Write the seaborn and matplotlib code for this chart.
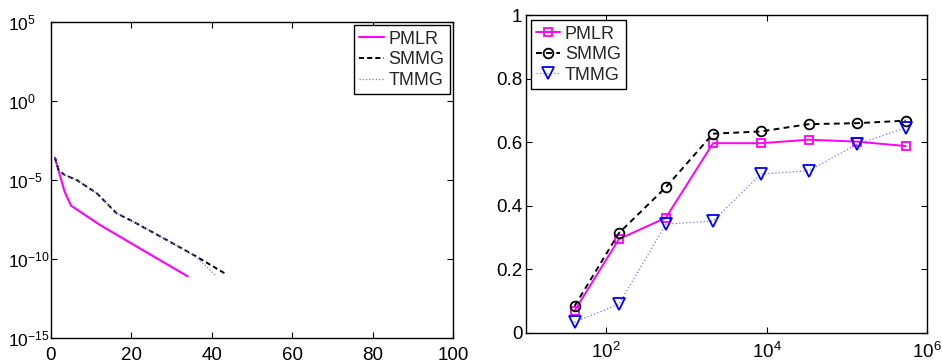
import numpy as np
import pandas as pd
import matplotlib
matplotlib.use("Agg")
import matplotlib.pyplot as plt
import seaborn as sns
from matplotlib.ticker import NullLocator, FixedLocator, LogFormatterMathtext

# Convergence history: iteration vs log10(residual)
pmlr_iter = [1, 2.2, 3.4, 5.0, 5.6, 12.2, 22.9, 34]
pmlr_log10 = [-3.59, -4.68, -5.74, -6.63, -6.73, -7.85, -9.45, -11.10]

smmg_iter = [1, 1.9, 3.4, 6.4, 11.4, 16.3, 20.5, 28.8, 36.2, 43.5]
smmg_log10 = [-3.59, -4.37, -4.68, -5.00, -5.84, -7.10, -7.64, -8.80, -9.85, -10.95]

tmmg_iter = [1, 1.9, 3.4, 6.4, 11.4, 16.3, 20.5, 28.8, 35.4, 38.3, 40.8]
tmmg_log10 = [-3.59, -4.37, -4.68, -5.00, -5.84, -7.10, -7.64, -8.80, -9.75, -10.38, -11.01]

# Accuracy vs problem size
sizes = [40.6, 145, 557, 2158, 8490, 33500, 133000, 542000]
pmlr_acc = [0.069, 0.295, 0.362, 0.597, 0.597, 0.608, 0.602, 0.588]
smmg_acc = [0.084, 0.314, 0.458, 0.627, 0.634, 0.657, 0.660, 0.668]
tmmg_acc = [0.033, 0.090, 0.342, 0.352, 0.500, 0.510, 0.593, 0.646]

sns.set_theme(style="white")
plt.rcParams["font.family"] = ["Liberation Sans", "DejaVu Sans"]
plt.rcParams["mathtext.fontset"] = "custom"
plt.rcParams["mathtext.rm"] = "Liberation Sans"
plt.rcParams["mathtext.it"] = "Liberation Sans:italic"
plt.rcParams["mathtext.bf"] = "Liberation Sans:bold"

fig = plt.figure(figsize=(9.42, 3.63), dpi=100)
ax1 = fig.add_axes([0.0541, 0.0689, 0.4268, 0.8705])
ax2 = fig.add_axes([0.5581, 0.0835, 0.4260, 0.8744])

magenta = "#ff00ff"
blue = "#0000ff"
light_blue = "#7777ff"

# ---- left panel: residual history ----
df_p = pd.DataFrame({"it": pmlr_iter, "res": 10.0 ** np.array(pmlr_log10)})
df_s = pd.DataFrame({"it": smmg_iter, "res": 10.0 ** np.array(smmg_log10)})
df_t = pd.DataFrame({"it": tmmg_iter, "res": 10.0 ** np.array(tmmg_log10)})

sns.lineplot(data=df_p, x="it", y="res", ax=ax1, sort=False, estimator=None,
             color=magenta, lw=1.5, label="PMLR")
sns.lineplot(data=df_s, x="it", y="res", ax=ax1, sort=False, estimator=None,
             color="black", lw=1.4, dashes=False, linestyle=(0, (2.6, 1.6)), label="SMMG")
sns.lineplot(data=df_t, x="it", y="res", ax=ax1, sort=False, estimator=None,
             color=light_blue, lw=0.9, linestyle=(0, (1, 1.6)), label="TMMG")

ax1.set_yscale("log")
ax1.set_xlim(0, 100)
ax1.set_ylim(1e-15, 1e5)
ax1.yaxis.set_major_locator(FixedLocator([1e-15, 1e-10, 1e-5, 1e0, 1e5]))
ax1.yaxis.set_major_formatter(LogFormatterMathtext())
ax1.yaxis.set_minor_locator(NullLocator())
ax1.set_xticks([0, 20, 40, 60, 80, 100])
ax1.set_xticklabels(["0", "20", "40", "60", "80", "100"])

# ---- right panel: accuracy ----
df_a = pd.DataFrame({"n": sizes, "PMLR": pmlr_acc, "SMMG": smmg_acc, "TMMG": tmmg_acc})

sns.lineplot(data=df_a, x="n", y="PMLR", ax=ax2, sort=False, estimator=None,
             color=magenta, lw=1.4, marker="s", markersize=6,
             markerfacecolor="none", markeredgecolor=magenta, markeredgewidth=1.3,
             label="PMLR")
sns.lineplot(data=df_a, x="n", y="SMMG", ax=ax2, sort=False, estimator=None,
             color="black", lw=1.4, linestyle=(0, (3.0, 2.2)), marker="o", markersize=7,
             markerfacecolor="none", markeredgecolor="black", markeredgewidth=1.3,
             label="SMMG")
sns.lineplot(data=df_a, x="n", y="TMMG", ax=ax2, sort=False, estimator=None,
             color=light_blue, lw=0.9, linestyle=(0, (1, 1.8)), marker="v", markersize=8,
             markerfacecolor="none", markeredgecolor=blue, markeredgewidth=1.3,
             label="TMMG")

ax2.set_xscale("log")
ax2.set_xlim(10, 1e6)
ax2.set_ylim(0, 1)
ax2.xaxis.set_major_locator(FixedLocator([1e2, 1e4, 1e6]))
ax2.xaxis.set_major_formatter(LogFormatterMathtext())
ax2.xaxis.set_minor_locator(NullLocator())
ax2.set_yticks([0, 0.2, 0.4, 0.6, 0.8, 1.0])
ax2.set_yticklabels(["0", "0.2", "0.4", "0.6", "0.8", "1"])

for ax in (ax1, ax2):
    ax.set_xlabel("")
    ax.set_ylabel("")
    for sp in ax.spines.values():
        sp.set_visible(True)
        sp.set_color("black")
        sp.set_linewidth(1.0)
    ax.tick_params(which="both", direction="in", length=4, width=0.8,
                   top=True, right=True, bottom=True, left=True,
                   labelsize=13.5, colors="black")
    ax.tick_params(axis="x", pad=6.5)
    ax.tick_params(axis="y", pad=2.5)

# power-of-ten labels start at a common left edge, exponents hang to the right
ax1.tick_params(axis="y", pad=31, labelsize=12.5)
for lab in ax1.get_yticklabels():
    lab.set_horizontalalignment("left")

legend_kw = dict(fontsize=13, frameon=True, fancybox=False, edgecolor="black",
                 framealpha=1, handlelength=1.35, handletextpad=0.25,
                 labelspacing=0.2, borderpad=0.3)

leg1 = ax1.legend(loc="upper right", borderaxespad=0.18, **legend_kw)
leg1.get_frame().set_linewidth(1.0)

leg2 = ax2.legend(loc="upper left", borderaxespad=0.27, **legend_kw)
leg2.get_frame().set_linewidth(1.0)

fig.savefig("out.png", dpi=100)
